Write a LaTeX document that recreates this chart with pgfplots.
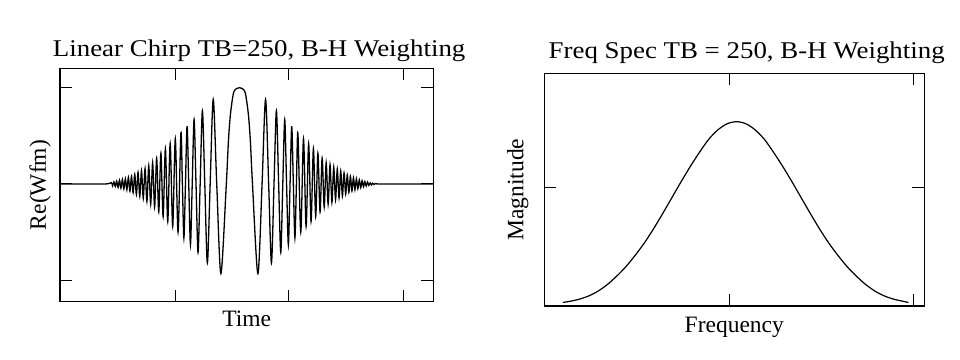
\documentclass[border=0pt]{standalone}
\usepackage{fontspec}
\setmainfont{Liberation Serif}
\newfontfamily\titlefont{Liberation Serif}[FakeStretch=1.12]
\usepackage{pgfplots}
\pgfplotsset{compat=1.18}
\pgfplotsset{
  every axis title/.style={at={(axis description cs:0.5,1)}, anchor=base},
  every axis/.append style={
    scale only axis,
    axis line style={line width=1.2bp},
    tick style={line width=1bp, black},
    major tick length=12bp,
    tick align=inside,
    xticklabels={}, yticklabels={},
    label style={font=\fontsize{23.5bp}{28bp}\selectfont},
    title style={font=\titlefont\fontsize{24bp}{28bp}\selectfont},
  },
}
\begin{document}
\begin{tikzpicture}
\useasboundingbox (0,0) rectangle (960bp,360bp);
\begin{axis}[
  at={(60bp,58.3bp)}, anchor=south west,
  width=373.3bp, height=233.4bp,
  xmin=0, xmax=373.3, ymin=-1.222, ymax=1.201,
  xtick={115,228.3,343.3}, ytick={-1,0,1},
  title={Linear Chirp TB=250, B-H Weighting},
  title style={xshift=12.5bp, yshift=11.6bp},
  xlabel={Time},
  xlabel style={at={(axis description cs:0.5,0)}, anchor=base, yshift=-25bp},
  ylabel={Re(Wfm)},
  ylabel style={at={(axis description cs:-0.0375,0.5)}, anchor=base},
]
\addplot[black, line width=1.3bp, smooth, tension=0.5] coordinates {
(0,0) (44.4,0)
(51.23,0.014) (52.57,-0.018) (53.93,0.022) (55.30,-0.026) (56.69,0.03) (58.09,-0.035)
(59.51,0.04) (60.94,-0.043) (62.40,0.047) (63.87,-0.05) (65.36,0.055) (66.87,-0.06)
(68.40,0.07) (69.95,-0.075) (71.53,0.08) (73.13,-0.09) (74.75,0.10) (76.40,-0.11)
(78.07,0.12) (79.77,-0.13) (81.51,0.14) (83.27,-0.15) (85.07,0.16) (86.90,-0.18)
(88.77,0.19) (90.68,-0.21) (92.63,0.22) (94.62,-0.24) (96.67,0.27) (98.76,-0.29)
(100.91,0.32) (103.12,-0.34) (105.40,0.37) (107.75,-0.39) (110.18,0.42) (112.70,-0.44)
(115.31,0.47) (118.04,-0.50) (120.90,0.53) (122.38,0) (123.90,-0.56) (125.46,0)
(127.07,0.60) (128.74,0) (130.45,-0.63) (132.23,0) (134.08,0.67) (136.01,0)
(138.03,-0.71) (140.16,0) (142.40,0.76) (144.79,0) (147.36,-0.82) (150.15,0)
(153.24,0.88) (156.74,0) (160.90,-0.93) (166.32,0)
(168.4,0.44) (170.4,0.72) (173.4,0.94) (176.4,0.99) (179.4,1.00)
(182.4,0.99) (185.4,0.94) (188.4,0.72) (190.4,0.44)
(192.48,0) (197.9,-0.93) (202.06,0) (205.56,0.88) (208.65,0) (211.44,-0.82)
(214.01,0) (216.40,0.76) (218.64,0) (220.77,-0.71) (222.79,0) (224.72,0.67)
(226.57,0) (228.35,-0.63) (230.06,0) (231.73,0.60) (233.34,0) (234.90,-0.56)
(236.42,0) (237.90,0.53) (240.76,-0.50) (243.49,0.47) (246.10,-0.44) (248.62,0.42)
(251.05,-0.39) (253.40,0.37) (255.68,-0.34) (257.89,0.32) (260.04,-0.29) (262.13,0.27)
(264.18,-0.24) (266.17,0.22) (268.12,-0.21) (270.03,0.20) (271.90,-0.19) (273.73,0.175)
(275.53,-0.165) (277.29,0.155) (279.03,-0.145) (280.73,0.135) (282.40,-0.125) (284.05,0.115)
(285.67,-0.105) (287.27,0.095) (288.85,-0.088) (290.40,0.08) (291.93,-0.073) (293.44,0.066)
(294.93,-0.06) (296.40,0.054) (297.86,-0.048) (299.29,0.043) (300.71,-0.038) (302.11,0.033)
(303.50,-0.029) (304.87,0.025) (306.23,-0.021) (307.57,0.018) (308.90,-0.015) (310.22,0.012)
(311.52,-0.01) (312.81,0.008) (314.08,-0.006) (315.35,0.004)
(321.4,0) (373.3,0)
};
\end{axis}
\begin{axis}[
  at={(544.3bp,54bp)}, anchor=south west,
  width=380bp, height=232.7bp,
  xmin=0, xmax=2.056, ymin=0, ymax=1.967,
  xtick={0,1,2}, ytick={0,1,1.967},
  title={Freq Spec TB = 250, B-H Weighting},
  title style={xshift=12.4bp, yshift=15bp},
  xlabel={Frequency},
  xlabel style={at={(axis description cs:0.5,0)}, anchor=base, yshift=-26bp},
  ylabel={Magnitude},
  ylabel style={at={(axis description cs:-0.0553,0.5)}, anchor=base},
]
\addplot[black, line width=1.2bp, smooth] coordinates {
(0.10,0.03) (0.14,0.04) (0.19,0.058) (0.24,0.085) (0.29,0.125) (0.34,0.18)
(0.39,0.25) (0.44,0.33) (0.49,0.425) (0.54,0.53) (0.59,0.65) (0.64,0.78)
(0.69,0.915) (0.74,1.05) (0.79,1.18) (0.84,1.30) (0.89,1.41) (0.94,1.49)
(0.99,1.541) (1.04,1.558) (1.09,1.541) (1.14,1.49) (1.19,1.41) (1.24,1.30)
(1.29,1.18) (1.34,1.05) (1.39,0.915) (1.44,0.78) (1.49,0.65) (1.54,0.53)
(1.59,0.425) (1.64,0.33) (1.69,0.25) (1.74,0.18) (1.79,0.125) (1.84,0.085)
(1.89,0.058) (1.94,0.04) (1.97,0.03)
};
\end{axis}
\end{tikzpicture}
\end{document}
